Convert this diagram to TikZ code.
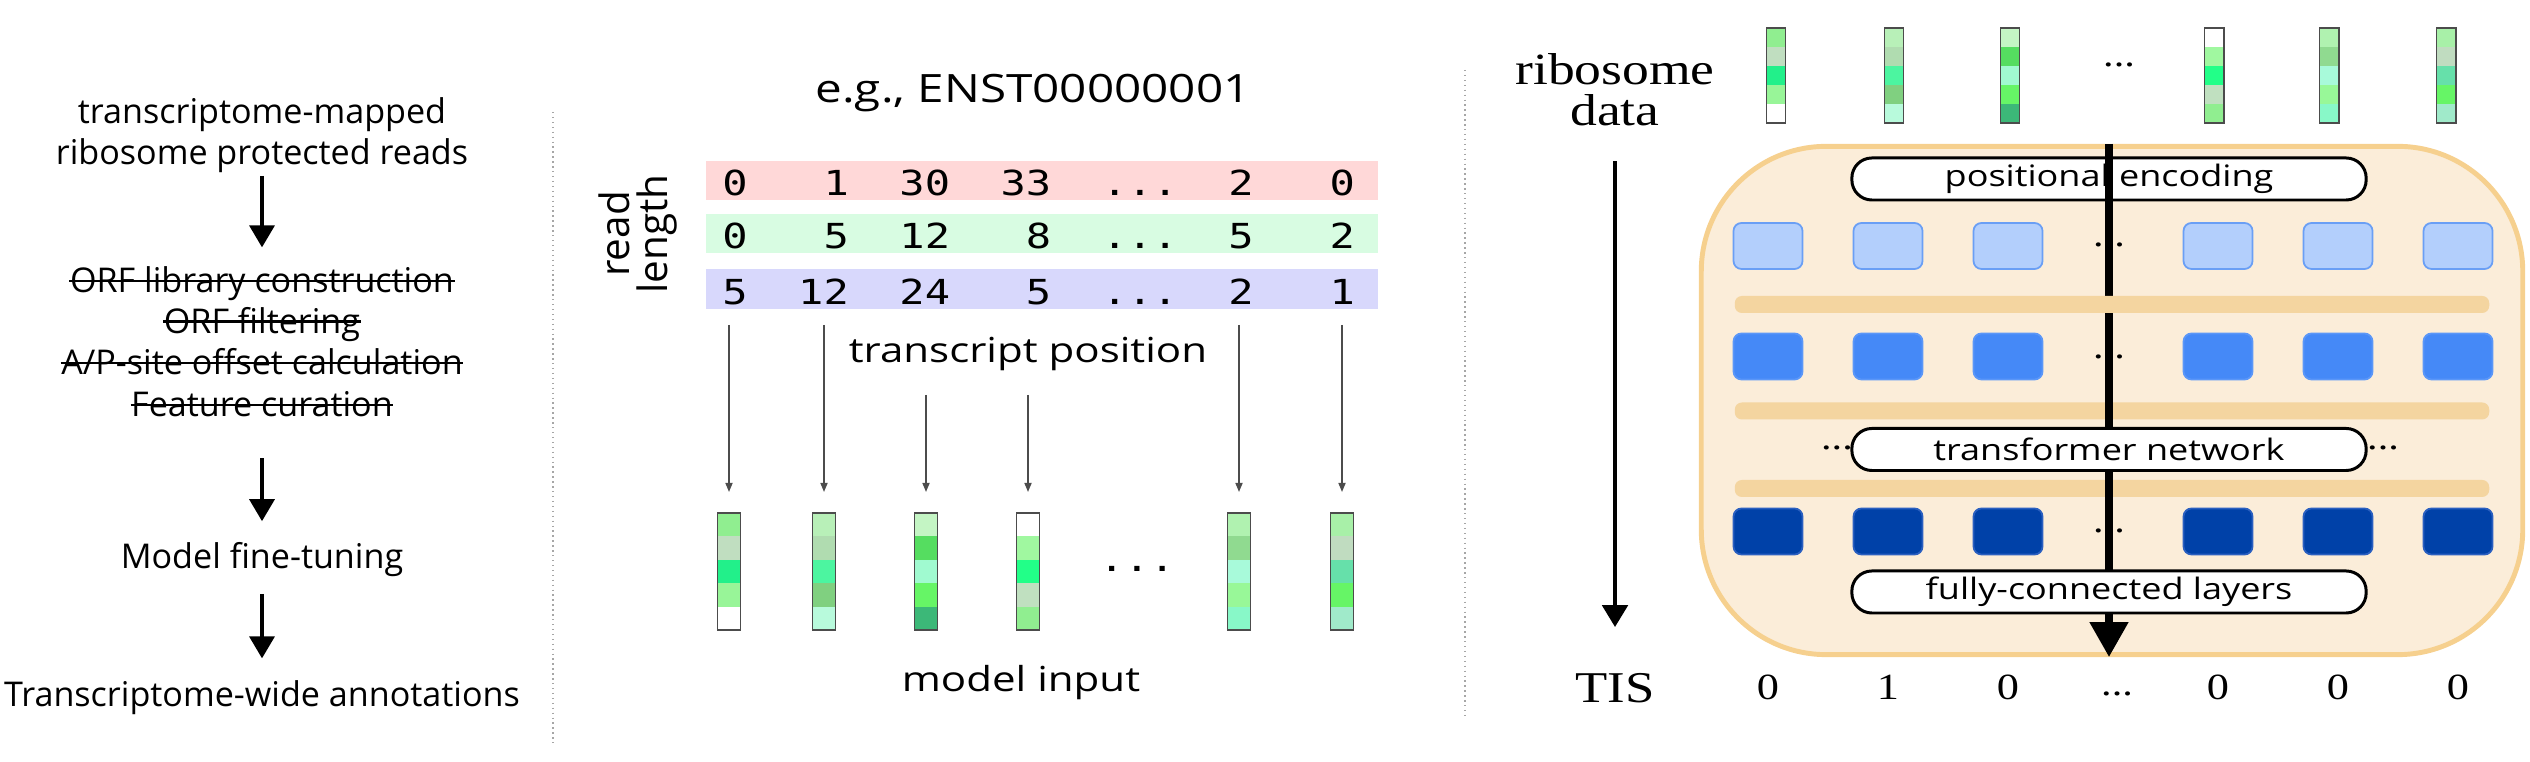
\documentclass[tikz,border=0pt]{standalone}
\usepackage{fontspec}
\usetikzlibrary{arrows.meta,positioning}
\newfontfamily\leftsans{Open Sans}
\newfontfamily\widesans[FakeStretch=1.22]{Open Sans}
\newfontfamily\widemono[FakeStretch=1.22]{DejaVu Sans Mono}
\newfontfamily\wideserif[FakeStretch=1.2]{Liberation Serif}
\definecolor{rowred}{HTML}{FFD8D8}
\definecolor{rowgreen}{HTML}{D8FCE2}
\definecolor{rowblue}{HTML}{D8D8FC}
\definecolor{netfill}{HTML}{FBEDD9}
\definecolor{netline}{HTML}{F6D08E}
\definecolor{barfill}{HTML}{F4D5A0}
\definecolor{encfill}{HTML}{B3CFFC}
\definecolor{encedge}{HTML}{6A9FF5}
\definecolor{attfill}{HTML}{4589F7}
\definecolor{attedge}{HTML}{5B97F8}
\definecolor{outfill}{HTML}{0041A8}
\definecolor{outedge}{HTML}{2A5FC0}

\begin{document}
\begin{tikzpicture}[x=0.01cm, y=-0.01cm,
  ltxt/.style={font=\leftsans\fontsize{9.7}{11.75}\selectfont, align=center, inner sep=0pt, anchor=base},
  strike/.style={line width=0.7pt},
  arr/.style={-{Triangle[width=0.25cm,length=0.22cm]}, line width=1pt},
  rowbg/.style={minimum width=6.72cm, minimum height=0.395cm, inner sep=0pt},
  num/.style={font=\widemono\fontsize{9.8}{10}\selectfont, anchor=base, inner sep=0pt},
  mlbl/.style={font=\widesans\fontsize{9.8}{11}\selectfont, anchor=base, inner sep=0pt},
  feed/.style={-{Triangle[width=0.07cm,length=0.09cm]}, draw=black!70, line width=0.45pt},
  vbox/.style={draw=black!70, line width=0.55pt, inner sep=0pt},
  divline/.style={draw=black!35, line width=0.4pt, densely dotted},
  netbox/.style={draw=netline, fill=netfill, line width=1.4pt, rounded corners=1.25cm, minimum width=8.21cm, minimum height=5.08cm},
  bar/.style={fill=barfill, rounded corners=2pt, minimum width=7.54cm, minimum height=0.17cm, inner sep=0pt},
  blk/.style={rounded corners=0.08cm, minimum width=0.69cm, minimum height=0.46cm, inner sep=0pt, line width=0.5pt},
  encb/.style={blk, fill=encfill, draw=encedge},
  attb/.style={blk, fill=attfill, draw=attedge},
  outb/.style={blk, fill=outfill, draw=outedge},
  pill/.style={draw, fill=white, line width=0.85pt, rounded corners=0.2cm, minimum width=5.14cm, minimum height=0.42cm, inner sep=0pt, font=\widesans\fontsize{8.4}{9}\selectfont},
  ell/.style={font=\wideserif\fontsize{10}{10}\selectfont, anchor=base, inner sep=0pt},
  serif/.style={font=\wideserif\fontsize{12.7}{11.7}\selectfont, align=center, inner sep=0pt, anchor=base},
  tisnum/.style={font=\wideserif\fontsize{10.5}{11}\selectfont, anchor=base, inner sep=0pt},
  flow/.style={-{Triangle[width=0.37cm,length=0.35cm]}, line width=2.2pt},
  side/.style={-{Triangle[width=0.25cm,length=0.22cm]}, line width=1.4pt},
]
\useasboundingbox (0,0) rectangle (2530,762);

% === Left panel: pipeline ===
\node[ltxt] (reads) at (262,165) {transcriptome-mapped\\ribosome protected reads};
\node[ltxt] (s1) at (262,293) {ORF library construction};
\node[ltxt] (s2) at (262,333.5) {ORF filtering};
\node[ltxt] (s3) at (262,375) {A/P-site offset calculation};
\node[ltxt] (s4) at (262,417) {Feature curation};
\foreach \k in {1,...,4}
  \draw[strike] ([yshift=0.12cm]s\k.base west) -- ([yshift=0.12cm]s\k.base east);
\node[ltxt] (tune) at (262,569) {Model fine-tuning};
\node[ltxt] (annot) at (262,707) {Transcriptome-wide annotations};
\draw[arr, shorten <=0.02cm, shorten >=0.19cm] (reads) -- (s1);
\draw[arr, shorten <=0.40cm, shorten >=0.21cm] (s4) -- (tune);
\draw[arr, shorten <=0.16cm, shorten >=0.22cm] (tune) -- (annot);

\draw[divline] (553,112) -- (553,743);

% === Middle panel: read counts to model input ===
\node[mlbl, font=\widesans\fontsize{11.1}{12}\selectfont] (title) at (1033,103) {e.g., ENST00000001};
\node[rotate=90, align=center, inner sep=0pt, font=\leftsans\fontsize{11.5}{11}\selectfont] (rdlen) at (638,234) {read\\length};
\node[rowbg, fill=rowred] (row1) at (1042,180.5) {};
\node[rowbg, fill=rowgreen] (row2) at (1042,233.5) {};
\node[rowbg, fill=rowblue] (row3) at (1042,289) {};
\foreach \c/\t [count=\k] in {0/0,4/1,7.5/30,11.5/33,20/2,24/0}
  \node[num] (ra\k) at ({735+25.3*\c},196) {\t};
\foreach \c/\t [count=\k] in {0/0,4/5,7.5/12,12/8,20/5,24/2}
  \node[num] (rb\k) at ({735+25.3*\c},249) {\t};
\foreach \c/\t [count=\k] in {0/5,3.5/12,7.5/24,12/5,20/2,24/1}
  \node[num] (rc\k) at ({735+25.3*\c},304.5) {\t};
\foreach \y [count=\k] in {196,249,304.5}
  \node[num] (rdots\k) at (1140,\y) {...};
\node[mlbl] (tpos) at (1028,363) {transcript position};

% vectors, middle (model input) and top right (ribosome data)
\foreach \x/\tx/\cl [count=\i] in {729/1776/{90EE90,C0DEC0,22F08A,98F598,FFFFFF},
    824/1894/{B8F0B8,B0DCB0,4CF5A0,80D080,B8FADC},
    926/2010/{C4F5C4,55DD60,A0FAD0,66F566,3CB878},
    1028/2214/{FFFFFF,A0F8A0,22FF88,C0E0C0,90EE90},
    1239/2329/{B0F2B0,90DA90,A8FADA,98F898,88F8C8},
    1342/2446/{A8F0A8,C0DCC0,66E0AA,66F566,A0EACA}} {
  \foreach \hx [count=\j] in \cl {
    \definecolor{cellc}{HTML}{\hx}
    \fill[cellc] (\x-11.5,489.6+23.4*\j) rectangle ++(23,23.4);
    \fill[cellc] (\tx-9.5,9+19*\j) rectangle ++(19,19);
  }
  \node[vbox, minimum width=0.23cm, minimum height=1.17cm] (v\i) at (\x,571.5) {};
  \node[vbox, minimum width=0.19cm, minimum height=0.95cm] (t\i) at (\tx,75.5) {};
}
\foreach \x/\ys [count=\i] in {729/325,824/325,926/395,1028/395,1239/325,1342/325} {
  \coordinate (fs\i) at (\x,\ys);
  \draw[feed, shorten >=0.2cm] (fs\i) -- (v\i.north);
}
\node[num] (vdots) at (1137,572) {...};
\node[mlbl] (minput) at (1021,692) {model input};

\draw[divline] (1465,70) -- (1465,717);

% === Right panel: transformer ===
\node[serif] (rdata) at (1615,126) {ribosome\\data};
\node[ell] (tdots) at (2119,67) {...};
\node[netbox] (net) at (2112,400.5) {};
\node[bar] (bar2) at (2112,411) {};
\node[bar] (bar3) at (2112,488.5) {};
\foreach \x [count=\i] in {1768,1888,2008,2218,2338,2458} {
  \node[encb] (e\i) at (\x,246) {};
  \node[attb] (a\i) at (\x,356.5) {};
  \node[outb] (o\i) at (\x,531.5) {};
}
\node[ell] (edots) at (2109,247) {...};
\node[ell] (adots) at (2109,358.5) {...};
\node[ell] (odots) at (2109,532.5) {...};
\node[pill] (pe) at (2109,179) {positional encoding};
\draw[flow] (pe |- net.north) -- (pe |- net.south);
\node[bar] (bar1) at (2112,304.5) {};
\node[pill] (tn) at (2109,449.5) {transformer network};
\node[pill] (fc) at (2109,592) {fully-connected layers};
\node[ell] (tnl) at (1837,450) {...};
\node[ell] (tnr) at (2383,450) {...};

\node[serif, font=\wideserif\fontsize{12.5}{13}\selectfont] (tislbl) at (1615,703) {TIS};
\draw[side, shorten <=0.34cm, shorten >=0.46cm] (rdata) -- (tislbl);
\foreach \x/\t [count=\i] in {1768/0,1888/1,2008/0,2218/0,2338/0,2458/0}
  \node[tisnum] (y\i) at (\x,700) {\t};
\node[ell] (ydots) at (2117,696) {...};
\end{tikzpicture}
\end{document}
